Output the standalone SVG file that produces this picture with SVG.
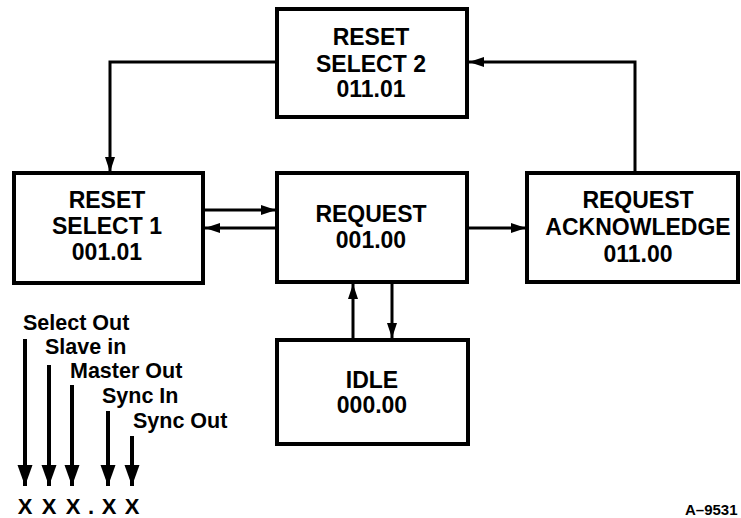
<svg xmlns="http://www.w3.org/2000/svg" width="741" height="518" viewBox="0 0 741 518">
<style>
.box{fill:#fff;stroke:#000;stroke-width:4}
.lbl{font-family:"Liberation Sans",Arial,sans-serif;font-weight:bold;font-size:23px;text-anchor:middle;fill:#000}
.leg{font-family:"Liberation Sans",Arial,sans-serif;font-weight:bold;font-size:21.5px;fill:#000}
.x{font-family:"Liberation Sans",Arial,sans-serif;font-weight:bold;font-size:22px;text-anchor:middle;fill:#000}
.c{fill:none;stroke:#000;stroke-width:3}
.l{fill:none;stroke:#000;stroke-width:4}
</style>
<defs>
<marker id="ah" markerUnits="userSpaceOnUse" markerWidth="16" markerHeight="12" refX="15" refY="5.5" orient="auto">
<path d="M0,0.5 L15,5.5 L0,10.5 z" fill="#000"/>
</marker>
<marker id="lh" markerUnits="userSpaceOnUse" markerWidth="22" markerHeight="16" refX="21" refY="7.5" orient="auto">
<path d="M0,0 L21,7.5 L0,15 z" fill="#000"/>
</marker>
</defs>
<g id="connectors">
<polyline class="c" points="277,62 110,62 110,172" marker-end="url(#ah)"/>
<line class="c" x1="204" y1="210" x2="276" y2="210" marker-end="url(#ah)"/>
<line class="c" x1="277" y1="228" x2="205" y2="228" marker-end="url(#ah)"/>
<line class="c" x1="468" y1="228" x2="526" y2="228" marker-end="url(#ah)"/>
<polyline class="c" points="635,173 635,62 469,62" marker-end="url(#ah)"/>
<line class="c" x1="353" y1="340" x2="353" y2="284" marker-end="url(#ah)"/>
<line class="c" x1="392" y1="283" x2="392" y2="338" marker-end="url(#ah)"/>
</g>
<g id="reset-select-2">
<rect class="box" x="277" y="9" width="190" height="108"/>
<text class="lbl" x="371" y="45">RESET</text>
<text class="lbl" x="371" y="72">SELECT 2</text>
<text class="lbl" x="371" y="97">011.01</text>
</g>
<g id="reset-select-1">
<rect class="box" x="14" y="173" width="189" height="110"/>
<text class="lbl" x="107" y="208">RESET</text>
<text class="lbl" x="107" y="234">SELECT 1</text>
<text class="lbl" x="107" y="260">001.01</text>
</g>
<g id="request">
<rect class="box" x="277" y="173" width="190" height="109"/>
<text class="lbl" x="371" y="222">REQUEST</text>
<text class="lbl" x="371" y="248">001.00</text>
</g>
<g id="request-acknowledge">
<rect class="box" x="527" y="173" width="211" height="109"/>
<text class="lbl" x="638" y="208">REQUEST</text>
<text class="lbl" x="638" y="235">ACKNOWLEDGE</text>
<text class="lbl" x="638" y="262">011.00</text>
</g>
<g id="idle">
<rect class="box" x="277" y="340" width="191" height="104"/>
<text class="lbl" x="372" y="388">IDLE</text>
<text class="lbl" x="372" y="413">000.00</text>
</g>
<g id="legend">
<text class="leg" x="23" y="330">Select Out</text>
<text class="leg" x="45" y="354">Slave in</text>
<text class="leg" x="70" y="378">Master Out</text>
<text class="leg" x="102" y="403">Sync In</text>
<text class="leg" x="133" y="428">Sync Out</text>
<line class="l" x1="25" y1="339" x2="25" y2="486" marker-end="url(#lh)"/>
<line class="l" x1="49" y1="365" x2="49" y2="486" marker-end="url(#lh)"/>
<line class="l" x1="72" y1="385" x2="72" y2="486" marker-end="url(#lh)"/>
<line class="l" x1="108" y1="411" x2="108" y2="486" marker-end="url(#lh)"/>
<line class="l" x1="132" y1="436" x2="132" y2="486" marker-end="url(#lh)"/>
<text class="x" x="25" y="514">X</text>
<text class="x" x="49" y="514">X</text>
<text class="x" x="73" y="514">X</text>
<text class="x" x="91" y="514">.</text>
<text class="x" x="109" y="514">X</text>
<text class="x" x="132" y="514">X</text>
</g>
<text class="leg" x="685" y="515" style="font-size:15px">A–9531</text>
</svg>
